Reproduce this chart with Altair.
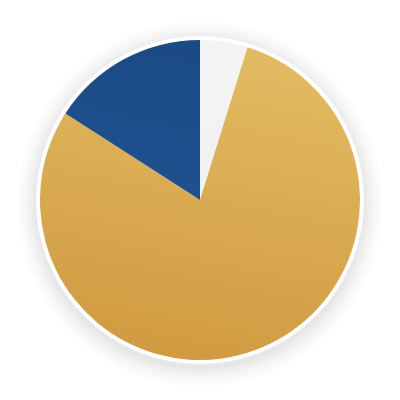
import altair as alt
import pandas as pd

categories = ["Other", "Gold", "Blue"]
values = [4.8, 79.3, 15.9]
order = [0, 1, 2]

df = pd.DataFrame({"category": categories, "value": values, "order": order})

base = alt.Chart(df).transform_window(
    cum="sum(value)", sort=[alt.SortField("order")], frame=[None, 0]
).transform_joinaggregate(total="sum(value)").transform_calculate(
    t1="2*PI*(datum.cum - datum.value)/datum.total",
    t2="2*PI*datum.cum/datum.total",
)

def grad(c1, c2):
    return alt.Gradient(
        gradient="linear", x1=0.6, y1=0, x2=0.4, y2=1,
        stops=[alt.GradientStop(color=c1, offset=0), alt.GradientStop(color=c2, offset=1)],
    )

fills = {
    "Other": grad("#f4f4f4", "#f1f1f1"),
    "Gold": grad("#e2bb62", "#d19a40"),
    "Blue": grad("#1b4a84", "#1e5290"),
}

dummy = alt.Chart(pd.DataFrame({"k": [0]}))

layers = []
shadow_radii = [182, 179, 176, 173, 171, 169, 167, 165]
for r in shadow_radii:
    layers.append(
        dummy.mark_arc(radius=r, fill="#303658", opacity=0.017).encode(
            theta=alt.value(0), theta2=alt.value(6.2832),
            x=alt.value(192), y=alt.value(196),
        )
    )
layers.append(
    dummy.mark_arc(radius=164, fill="white").encode(
        theta=alt.value(0), theta2=alt.value(6.2832)
    )
)
for c in categories:
    layers.append(
        base.transform_filter(alt.datum.category == c)
        .mark_arc(radius=160, fill=fills[c])
        .encode(theta=alt.Theta("t1:Q", scale=None), theta2="t2:Q")
    )

chart = alt.layer(*layers).properties(
    width=384, height=384, padding=0, autosize="none"
).configure_view(stroke=None)

chart.save("out.html", embed_options={"renderer": "svg", "actions": False})
